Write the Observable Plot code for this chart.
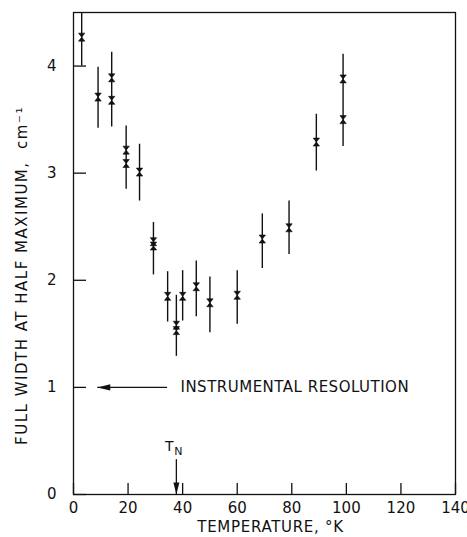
<!DOCTYPE html>
<html>
<head>
<meta charset="utf-8">
<script src="https://cdn.jsdelivr.net/npm/d3@7"></script>
<script src="https://cdn.jsdelivr.net/npm/@observablehq/plot@0.6"></script>
<style>
  html, body { margin: 0; padding: 0; background: #fff; }
  #chart svg { display: block; }
</style>
</head>
<body>
<div id="chart"></div>
<script>
// Measured line widths (cm^-1) against temperature (K)
const temps  = [3, 9, 14, 14, 19.3, 19.3, 24.2, 29.3, 29.3, 34.5, 37.7, 37.7, 40, 45, 50, 60, 69.2, 79, 89, 98.8, 98.8];
const widths = [4.27, 3.71, 3.89, 3.68, 3.215, 3.09, 3.01, 2.36, 2.32, 1.85, 1.58, 1.53, 1.85, 1.94, 1.79, 1.86, 2.385, 2.49, 3.29, 3.88, 3.50];

// Error bars, one per temperature
const barTemps = [3, 9, 14, 19.3, 24.2, 29.3, 34.5, 37.7, 40, 45, 50, 60, 69.2, 79, 89, 98.8];
const barLow   = [4.0, 3.42, 3.43, 2.85, 2.74, 2.05, 1.61, 1.29, 1.62, 1.66, 1.51, 1.59, 2.11, 2.24, 3.02, 3.25];
const barHigh  = [4.56, 3.99, 4.13, 3.44, 3.27, 2.54, 2.08, 1.86, 2.09, 2.18, 2.03, 2.09, 2.62, 2.74, 3.55, 4.11];

// Axis ticks
const xTicks = [0, 20, 40, 60, 80, 100, 120, 140];
const yTicks = [0, 1, 2, 3, 4];

// Annotations
const resolutionWidth = 1;               // instrumental resolution, cm^-1
const resolutionArrow = [34.3, 8.7];     // arrow tail and tip temperatures
const resolutionLabelTemp = 39.2;
const resolutionLabel = "INSTRUMENTAL RESOLUTION";
const neelTemp = 37.7;                    // T_N
const neelArrow = [0.33, 0];              // arrow tail and tip widths
const neelLabelWidth = 0.45;

const yTitle = "FULL WIDTH AT HALF MAXIMUM,  cm⁻¹";
const xTitle = "TEMPERATURE, °K";

const points = temps.map((t, i) => ({t, w: widths[i]}));
const bars = barTemps.map((t, i) => ({t, lo: barLow[i], hi: barHigh[i]}));

// Filled hourglass marker
const hourglass = {
  draw(ctx) {
    const w = 3.2, h = 4;
    ctx.moveTo(-w, -h); ctx.lineTo(w, -h); ctx.lineTo(-w, h); ctx.lineTo(w, h); ctx.closePath();
  }
};
// Filled arrowheads with the tip at the anchor point
const headLeft = {
  draw(ctx) { ctx.moveTo(0, 0); ctx.lineTo(13, -3.2); ctx.lineTo(13, 3.2); ctx.closePath(); }
};
const headDown = {
  draw(ctx) { ctx.moveTo(0, 0); ctx.lineTo(-3, -12); ctx.lineTo(3, -12); ctx.closePath(); }
};

const font = "'DejaVu Sans', sans-serif";
const ink = "#111";

const chart = Plot.plot({
  width: 467,
  height: 537,
  marginLeft: 73,
  marginRight: 12,
  marginTop: 12,
  marginBottom: 43,
  style: {fontFamily: font, fontSize: "15px", color: ink, background: "#fff"},
  x: {domain: [0, 140]},
  y: {domain: [0, 4.5]},
  marks: [
    Plot.frame({stroke: ink, strokeWidth: 1.3}),
    Plot.axisX(xTicks, {tickSize: -11, tickPadding: 19, strokeWidth: 1.3, fontSize: 15, tickFormat: "d", label: null}),
    Plot.axisY(yTicks, {tickSize: -13, tickPadding: 30, strokeWidth: 1.3, fontSize: 15, tickFormat: "d", label: null}),
    // Error bars
    Plot.ruleX(bars, {x: "t", y1: "lo", y2: "hi", stroke: ink, strokeWidth: 1.4, clip: true}),
    // Data points
    Plot.dot(points, {x: "t", y: "w", symbol: hourglass, fill: ink, stroke: ink, strokeWidth: 0.6}),
    // Instrumental resolution arrow
    Plot.link([resolutionWidth], {x1: resolutionArrow[0], x2: resolutionArrow[1], y1: d => d, y2: d => d, stroke: ink, strokeWidth: 1.3}),
    Plot.dot([resolutionWidth], {x: resolutionArrow[1], y: d => d, symbol: headLeft, fill: ink, stroke: "none"}),
    Plot.text([resolutionLabel], {x: resolutionLabelTemp, y: resolutionWidth, text: d => d, textAnchor: "start", fontSize: 15, fill: ink}),
    // Neel temperature arrow
    Plot.link([neelTemp], {x1: d => d, x2: d => d, y1: neelArrow[0], y2: neelArrow[1], stroke: ink, strokeWidth: 1.3}),
    Plot.dot([neelTemp], {x: d => d, y: neelArrow[1], symbol: headDown, fill: ink, stroke: "none"}),
    Plot.text([neelTemp], {x: d => d, y: neelLabelWidth, text: () => "T", fontSize: 14, dx: -7, fill: ink}),
    Plot.text([neelTemp], {x: d => d, y: neelLabelWidth, text: () => "N", fontSize: 11, dx: 2, dy: 5, fill: ink}),
    // Axis titles
    Plot.text([yTitle], {frameAnchor: "left", text: d => d, rotate: -90, textAnchor: "middle", lineAnchor: "middle", dx: -51, dy: 22, fontSize: 15, fill: ink}),
    Plot.text([xTitle], {frameAnchor: "bottom", text: d => d, textAnchor: "middle", lineAnchor: "middle", dx: 6, dy: 33, fontSize: 15, fill: ink})
  ]
});

// Lettering is set a little wider than the font's default spacing
const spacing = new Map([[resolutionLabel, "0.5px"], [xTitle, "0.7px"], [yTitle, "1.5px"]]);
d3.select(chart).selectAll("text")
  .filter(function () { return spacing.has(this.textContent); })
  .attr("letter-spacing", function () { return spacing.get(this.textContent); });

document.getElementById("chart").append(chart);
</script>
</body>
</html>
